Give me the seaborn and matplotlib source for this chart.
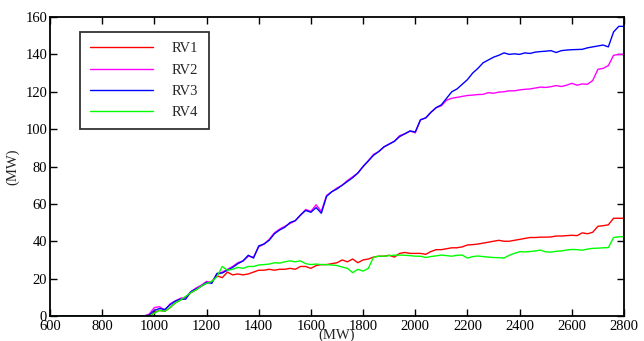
import numpy as np
import pandas as pd
import seaborn as sns
import matplotlib
matplotlib.use("Agg")
import matplotlib.pyplot as plt

x_mw = [600, 960, 980, 1000, 1020, 1040, 1060, 1080, 1100, 1120, 1140, 1160, 1180, 1200,
        1220, 1240, 1260, 1280, 1300, 1320, 1340, 1360, 1380, 1400, 1420, 1440, 1460, 1480,
        1500, 1520, 1540, 1560, 1580, 1600, 1620, 1640, 1660, 1680, 1700, 1720, 1740, 1760,
        1780, 1800, 1820, 1840, 1860, 1880, 1900, 1920, 1940, 1960, 1980, 2000, 2020, 2040,
        2060, 2080, 2100, 2120, 2140, 2160, 2180, 2200, 2220, 2240, 2260, 2280, 2300, 2320,
        2340, 2360, 2380, 2400, 2420, 2440, 2460, 2480, 2500, 2520, 2540, 2560, 2580, 2600,
        2620, 2640, 2660, 2680, 2700, 2720, 2740, 2760, 2780, 2800]

rv1 = [0, 0, 0, 2, 3, 2.5, 4.5, 7, 8.5, 10, 12.5, 14, 16, 17.5,
       18.5, 21.5, 20.5, 23.5, 22, 22.5, 22, 22.5, 23.5, 24.5, 24.5, 25, 24.5, 25,
       25, 25.5, 25, 26.5, 26.5, 25.5, 27, 27.5, 27.5, 28, 28.5, 30, 29, 30.5,
       28.5, 30, 30.5, 31.5, 32, 32, 32.5, 31.5, 33.5, 34, 33.5, 33.5, 33.5, 33,
       34.5, 35.5, 35.5, 36, 36.5, 36.5, 37, 38, 38.2, 38.5, 39, 39.5, 40, 40.5,
       40, 40, 40.5, 41, 41.5, 42, 42, 42.2, 42.2, 42.3, 42.8, 42.8, 43, 43.2,
       43, 44.5, 44, 44.8, 48, 48.3, 48.8, 52.3, 52.3, 52.3]

rv2 = [0, 0, 1, 4.5, 5, 3, 6.5, 8, 9.5, 10, 13, 15, 16.5, 18.5,
       18, 22.5, 23.5, 25, 26.5, 28.5, 29.5, 32, 31.5, 37, 38.5, 41, 44.5, 46.5,
       48, 49.5, 51, 54, 57, 56, 59.5, 56, 64.5, 66.5, 68.5, 70, 72.5, 74.5,
       76.5, 80, 83, 86.5, 88, 90.5, 92, 93.5, 96.5, 97.5, 99, 98, 105, 106,
       109, 111.5, 112.5, 115.5, 116.5, 117, 117.5, 118, 118.2, 118.5, 118.6, 119.5, 119.2, 119.8,
       120, 120.5, 120.5, 121, 121.3, 121.5, 122, 122.5, 122.3, 122.7, 123.3, 122.8, 123.5, 124.5,
       123.5, 124.2, 124, 126, 132, 132.5, 134, 139.5, 140, 140]

rv3 = [0, 0, 0.5, 3, 4, 3.5, 6, 8, 9, 9, 13, 14.5, 16, 18,
       17.5, 22.8, 23, 24.5, 26, 28, 29.5, 32.5, 31, 37.5, 38.5, 40.5, 44, 46,
       47.5, 50, 51, 54, 56.5, 55.5, 58, 55, 64, 66.5, 68, 70, 72, 74,
       76.5, 80, 83, 86, 88, 90.5, 92, 93.5, 96, 97.5, 99, 98.5, 105, 106,
       109, 111.5, 113, 116.5, 120, 121.5, 124, 126.5, 130, 132.5, 135.5, 137, 138.5, 139.5,
       140.8, 140, 140.3, 140, 140.8, 140.5, 141.2, 141.5, 141.7, 142, 141, 142, 142.3, 142.5,
       142.6, 142.7, 143.5, 144, 144.5, 145, 144, 152, 155, 155]

rv4 = [0, 0, 0, 1.5, 3, 2.5, 4.5, 7, 8.5, 10.5, 12.5, 14, 16, 17.5,
       18.5, 21, 26.5, 24.5, 25, 26, 25.5, 26.5, 26.5, 27.3, 27.5, 27.8, 28.5, 28.3,
       29, 29.5, 29, 29.5, 28, 27.5, 27.8, 27.5, 27.5, 27.3, 27, 26.2, 25.5, 23.2,
       25, 24, 25.5, 31.5, 32, 32, 32.3, 32.5, 32.6, 32.5, 32.3, 32, 32, 31.3,
       31.8, 32.2, 32.6, 32.3, 32, 32.5, 32.6, 31, 31.8, 32.1, 31.8, 31.5, 31.3, 31.2,
       31, 32.5, 33.5, 34.4, 34.3, 34.5, 34.8, 35.3, 34.3, 34.2, 34.6, 34.8, 35.3, 35.6,
       35.5, 35.2, 35.8, 36.2, 36.3, 36.5, 36.6, 42, 42.4, 42.4]

series_names = ["RV1", "RV2", "RV3", "RV4"]
series_colors = ["#ff0000", "#ff00ff", "#0000ff", "#00ff00"]
x_ticks = [600, 800, 1000, 1200, 1400, 1600, 1800, 2000, 2200, 2400, 2600, 2800]
y_ticks = [0, 20, 40, 60, 80, 100, 120, 140, 160]

frames = []
for name, vals in zip(series_names, [rv1, rv2, rv3, rv4]):
    frames.append(pd.DataFrame({"x": x_mw, "y": vals, "series": name}))
df = pd.concat(frames, ignore_index=True)

sns.set_style("ticks")
plt.rcParams["font.family"] = ["Liberation Serif", "DejaVu Serif"]

fig = plt.figure(figsize=(6.44, 3.41), dpi=100)
ax = fig.add_axes([50 / 644, 1 - 316 / 341, 574 / 644, 299 / 341])

sns.lineplot(data=df, x="x", y="y", hue="series", hue_order=series_names,
             palette=dict(zip(series_names, series_colors)), linewidth=1.0,
             ax=ax, estimator=None, sort=False)

ax.set_xlim(600, 2800)
ax.set_ylim(0, 160)
ax.set_xticks(x_ticks)
ax.set_yticks(y_ticks)
ax.tick_params(direction="in", top=True, right=True, length=5, width=1,
               labelsize=10.5, colors="black", pad=2)
ax.tick_params(axis="x", pad=3)
for sp in ax.spines.values():
    sp.set_linewidth(1.3)
    sp.set_color("black")
    sp.set_visible(True)

ax.set_xlabel("(MW)", fontsize=10.5, labelpad=-3)
ax.set_ylabel("(MW)", fontsize=10.5, labelpad=4)

leg = ax.legend(loc="upper left", bbox_to_anchor=(30 / 574, 1 - 15 / 299),
                borderaxespad=0, frameon=True, fancybox=False, handlelength=4.3,
                handletextpad=1.3, labelspacing=0.55, borderpad=0.7, fontsize=10.5,
                title=None)
leg.get_frame().set_edgecolor("black")
leg.get_frame().set_linewidth(1.3)
for line in leg.get_lines():
    line.set_linewidth(1.0)

fig.savefig("out.png", dpi=100)
